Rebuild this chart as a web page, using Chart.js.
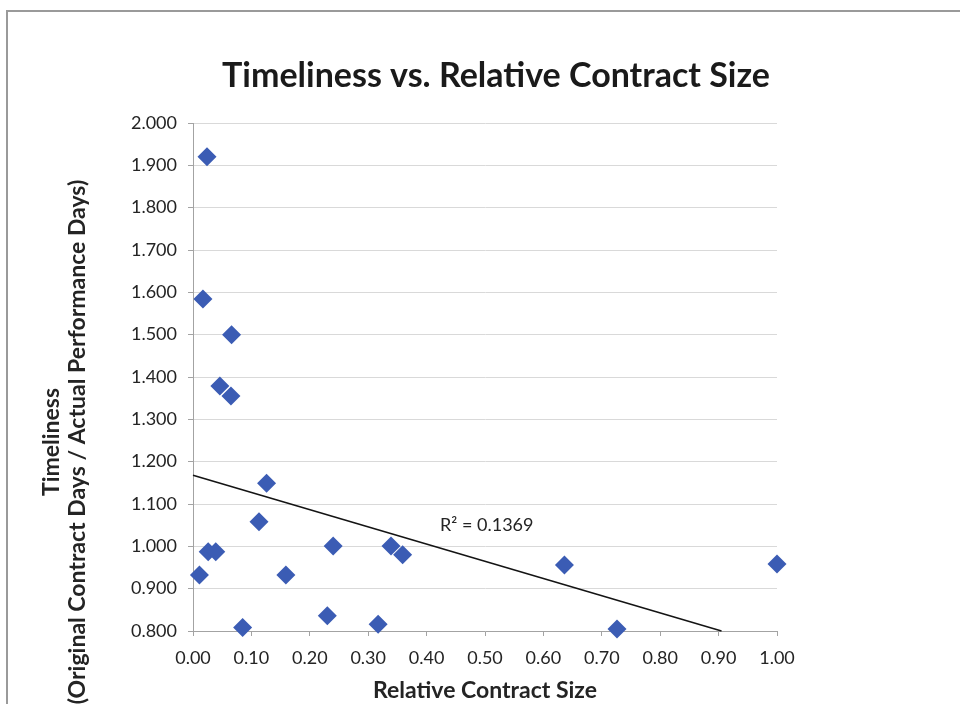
<!DOCTYPE html>
<html>
<head>
<meta charset="utf-8">
<title>Timeliness vs. Relative Contract Size</title>
<script src="https://cdn.jsdelivr.net/npm/chart.js@4.4.1/dist/chart.umd.min.js"></script>
<style>
  html, body { margin: 0; padding: 0; background: #ffffff; }
  #wrap { position: relative; width: 960px; height: 704px; overflow: hidden; background: #ffffff; }
  #frame { position: absolute; left: 6px; top: 10px; width: 1000px; height: 800px;
           border-left: 2px solid #9a9a9a; border-top: 2px solid #9a9a9a; }
  #chart { position: absolute; left: 0; top: 0; }
</style>
</head>
<body>
<div id="wrap">
  <div id="frame"></div>
  <canvas id="chart" width="960" height="704"></canvas>
</div>
<script>
// Relative contract size (x) and timeliness ratio (y) for each contract
const contractSize = [0.024, 0.017, 0.066, 0.046, 0.065, 0.126, 0.113, 0.026, 0.039, 0.011,
                      0.085, 0.159, 0.230, 0.240, 0.317, 0.339, 0.359, 0.636, 0.726, 1.000];
const timeliness   = [1.920, 1.584, 1.500, 1.379, 1.355, 1.149, 1.058, 0.987, 0.987, 0.932,
                      0.808, 0.932, 0.836, 1.001, 0.816, 1.001, 0.980, 0.956, 0.805, 0.958];

// Linear trendline end points
const trendX = [0, 0.905];
const trendY = [1.168, 0.800];
const rSquaredText = 'R\u00B2 = 0.1369';
const rSquaredAt = { x: 0.503, y: 1.050 };

// Axis tick values
const xTickValues = [0, 0.1, 0.2, 0.3, 0.4, 0.5, 0.6, 0.7, 0.8, 0.9, 1.0];
const yTickValues = [0.8, 0.9, 1.0, 1.1, 1.2, 1.3, 1.4, 1.5, 1.6, 1.7, 1.8, 1.9, 2.0];

const chartTitle = 'Timeliness vs. Relative Contract Size';
const xTitle = 'Relative Contract Size';
const yTitleLines = ['Timeliness', '(Original Contract Days / Actual Performance Days)'];

const points = contractSize.map((x, i) => ({ x: x, y: timeliness[i] }));
const trend = trendX.map((x, i) => ({ x: x, y: trendY[i] }));

const AXIS = '#a3a3a3';
const GRID = '#d9d9d9';
const TEXT = '#242424';

// Title, vertical axis title and R² note
const textPlugin = {
  id: 'chartTexts',
  afterDraw(chart) {
    const ctx = chart.ctx;
    const xs = chart.scales.x, ys = chart.scales.y;
    ctx.save();
    ctx.fillStyle = '#1a1a1a';
    ctx.textAlign = 'center';
    ctx.textBaseline = 'middle';
    ctx.font = 'bold 34px Lato';
    ctx.fillText(chartTitle, 496, 76);

    ctx.fillStyle = TEXT;
    ctx.font = '18px Lato';
    ctx.fillText(rSquaredText, xs.getPixelForValue(rSquaredAt.x), ys.getPixelForValue(rSquaredAt.y));

    ctx.translate(65, 442);
    ctx.rotate(-Math.PI / 2);
    ctx.font = 'bold 23px Lato';
    ctx.fillText(yTitleLines[0], 0, -13);
    ctx.fillText(yTitleLines[1], 0, 13);
    ctx.restore();
  }
};

Chart.defaults.font.family = 'Lato';
Chart.defaults.color = TEXT;

new Chart(document.getElementById('chart'), {
  type: 'scatter',
  data: {
    datasets: [
      {
        label: 'Contracts',
        data: points,
        pointStyle: 'rectRot',
        pointRadius: 9.5,
        pointBackgroundColor: '#3b5cb4',
        pointBorderColor: '#3b5cb4',
        pointBorderWidth: 0,
        clip: false
      },
      {
        label: 'Linear trend',
        type: 'line',
        data: trend,
        borderColor: '#141414',
        borderWidth: 1.6,
        pointRadius: 0,
        fill: false,
        clip: false
      }
    ]
  },
  options: {
    responsive: false,
    devicePixelRatio: 1,
    animation: false,
    layout: { padding: { left: 0, top: 123, right: 183, bottom: 0 } },
    plugins: {
      legend: { display: false },
      tooltip: { enabled: false },
      title: { display: false }
    },
    scales: {
      x: {
        type: 'linear',
        min: 0,
        max: 1,
        afterBuildTicks: (s) => { s.ticks = xTickValues.map(v => ({ value: v })); },
        afterFit: (s) => { s.height = 73; },
        ticks: {
          padding: 11,
          font: { size: 18 },
          color: TEXT,
          callback: (v) => Number(v).toFixed(2)
        },
        grid: { drawOnChartArea: false, drawTicks: true, tickLength: 5, tickColor: AXIS, color: AXIS },
        border: { display: true, color: AXIS, width: 1 },
        title: {
          display: true,
          text: xTitle,
          color: TEXT,
          font: { size: 23, weight: 'bold' },
          padding: { top: 0, bottom: 0 }
        }
      },
      y: {
        type: 'linear',
        min: 0.8,
        max: 2.0,
        afterBuildTicks: (s) => { s.ticks = yTickValues.map(v => ({ value: v })); },
        afterFit: (s) => { s.width = 193; },
        ticks: {
          padding: 11,
          font: { size: 18 },
          color: TEXT,
          callback: (v) => Number(v).toFixed(3)
        },
        grid: { color: GRID, lineWidth: 1, tickLength: 5, tickColor: AXIS },
        border: { display: true, color: AXIS, width: 1 }
      }
    }
  },
  plugins: [textPlugin]
});
</script>
</body>
</html>
